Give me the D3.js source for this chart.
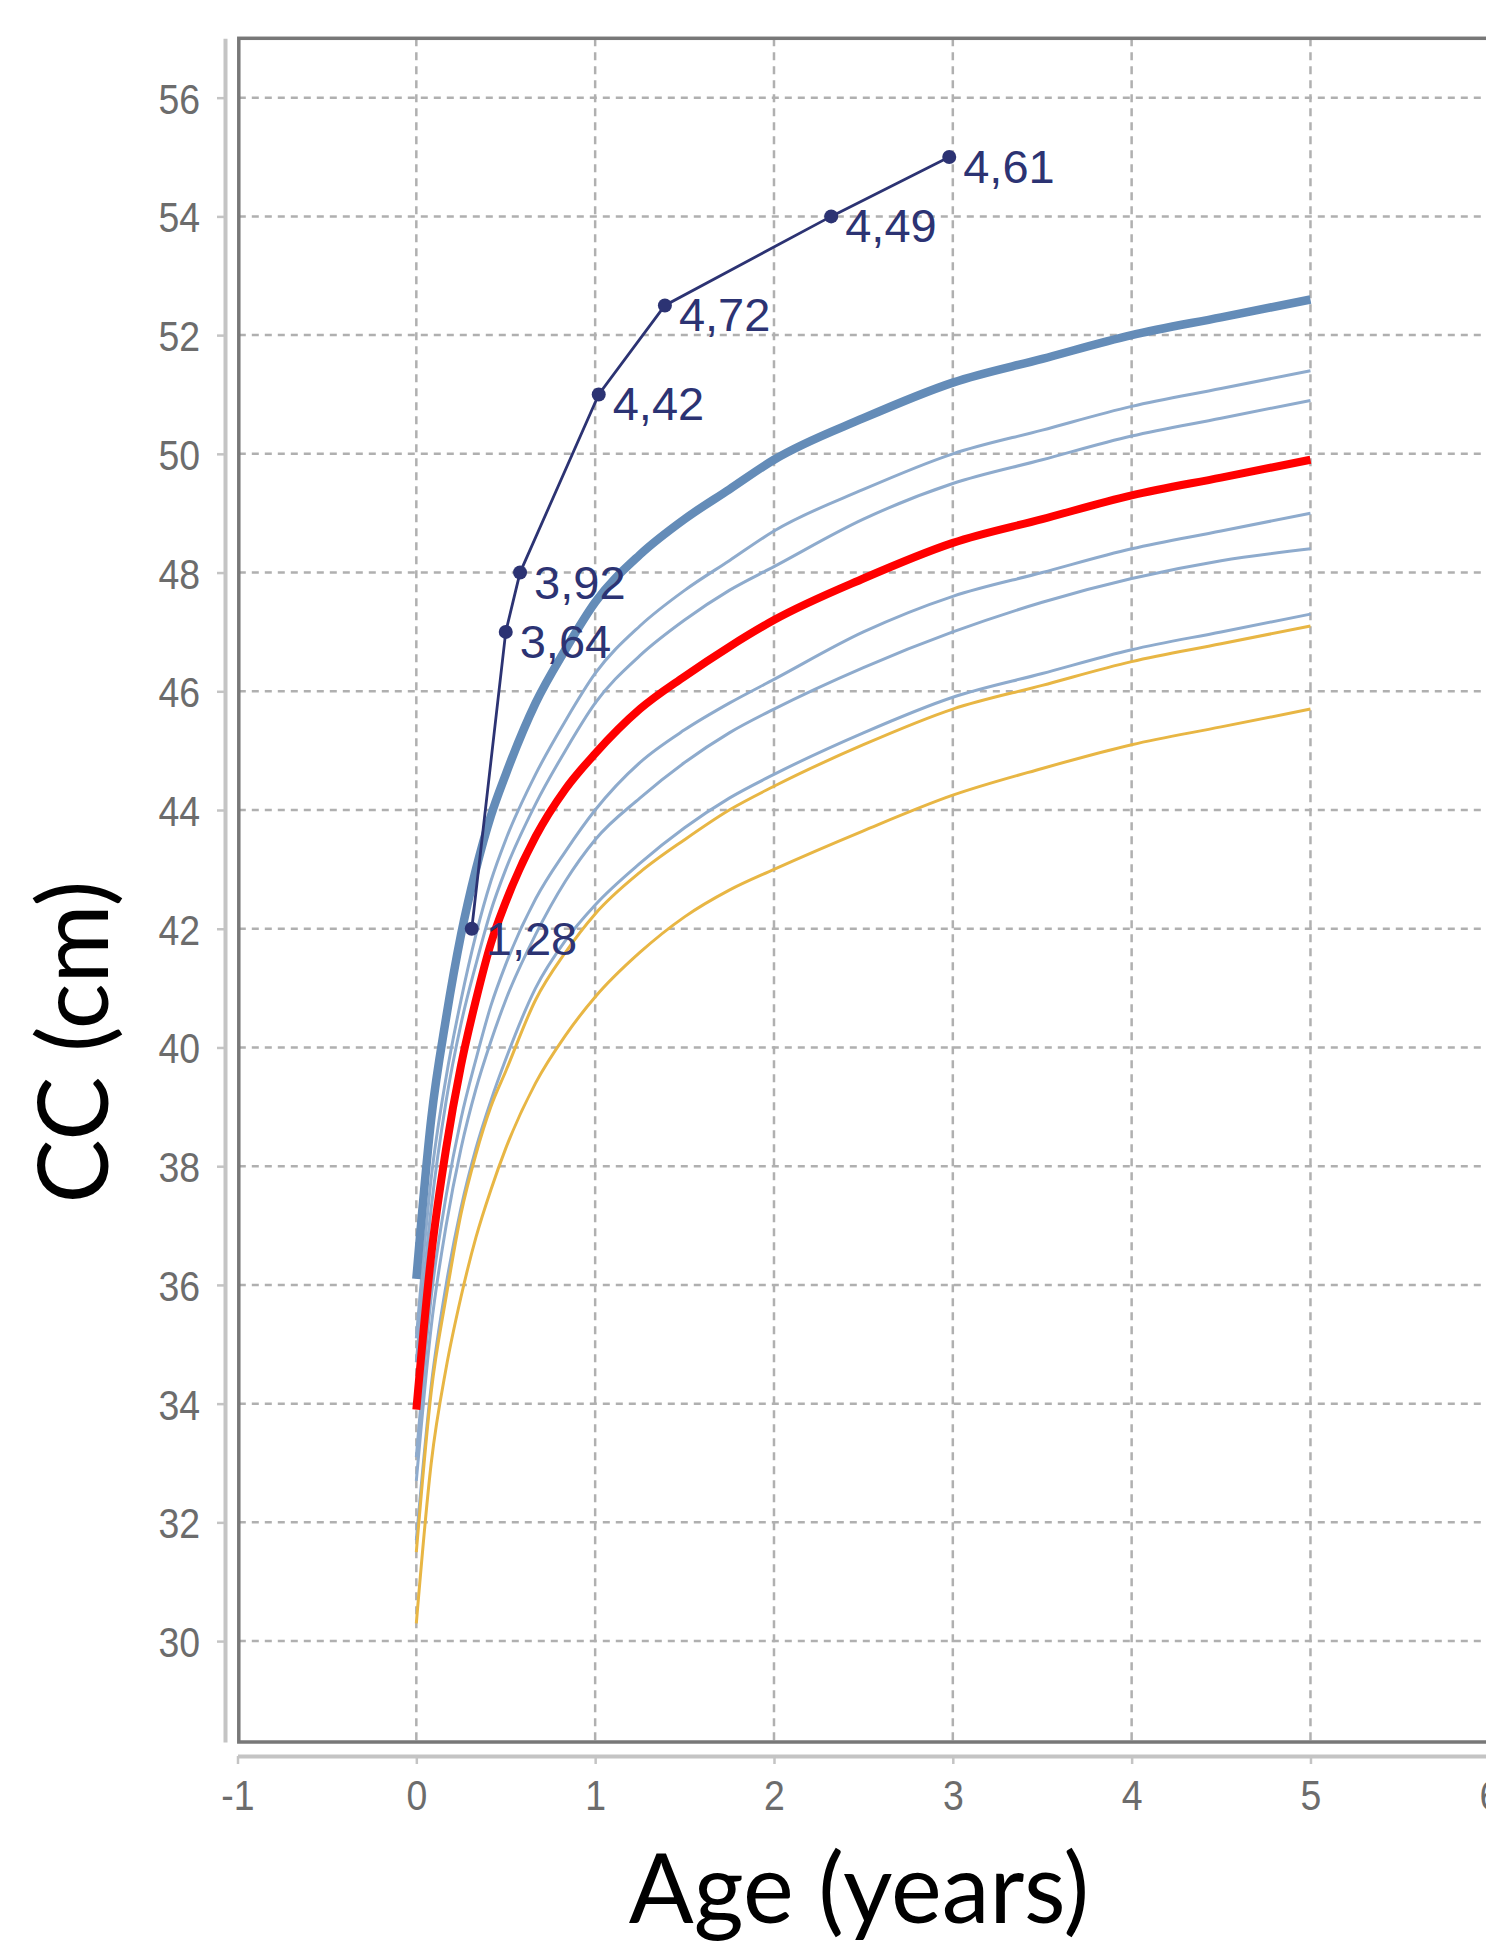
<!DOCTYPE html>
<html>
<head>
<meta charset="utf-8">
<script src="https://cdn.jsdelivr.net/npm/d3@7"></script>
<style>
  html, body { margin: 0; padding: 0; background: #ffffff; }
  svg { display: block; }
</style>
</head>
<body>
<svg id="chart" width="1486" height="1948"></svg>
<script>
// ---------------- DATA ----------------
const xTicks = [-1, 0, 1, 2, 3, 4, 5, 6];
const yTicks = [30, 32, 34, 36, 38, 40, 42, 44, 46, 48, 50, 52, 54, 56];

// reference curve ages (months)
const ageMonths = [0, 1, 2, 3, 4, 5, 6, 8, 10, 12, 15, 18, 21, 24, 30, 36, 42, 48, 54, 60];

const p97  = [36.1, 38.8, 40.5, 41.9, 43.0, 43.9, 44.6, 45.8, 46.7, 47.5, 48.3, 48.9, 49.4, 49.9, 50.6, 51.2, 51.6, 52.0, 52.3, 52.6];
const p85  = [35.1, 37.8, 39.5, 40.8, 41.9, 42.8, 43.5, 44.6, 45.5, 46.3, 47.1, 47.7, 48.2, 48.7, 49.4, 50.0, 50.4, 50.8, 51.1, 51.4];
const p75  = [34.7, 37.3, 39.1, 40.4, 41.4, 42.3, 43.0, 44.1, 45.0, 45.8, 46.6, 47.2, 47.7, 48.1, 48.9, 49.5, 49.9, 50.3, 50.6, 50.9];
const p50  = [33.9, 36.5, 38.3, 39.7, 40.8, 41.75, 42.45, 43.55, 44.35, 44.95, 45.7, 46.25, 46.75, 47.2, 47.9, 48.5, 48.9, 49.3, 49.6, 49.9];
const p25  = [33.1, 35.8, 37.5, 38.8, 39.8, 40.7, 41.4, 42.5, 43.3, 44.0, 44.8, 45.35, 45.8, 46.2, 47.0, 47.6, 48.0, 48.4, 48.7, 49.0];
const p15  = [32.7, 35.3, 37.0, 38.3, 39.3, 40.1, 40.8, 41.9, 42.8, 43.5, 44.2, 44.8, 45.3, 45.7, 46.4, 47.0, 47.5, 47.9, 48.2, 48.4];
const p3   = [31.7, 34.3, 36.0, 37.3, 38.3, 39.1, 39.8, 41.0, 41.8, 42.4, 43.1, 43.7, 44.2, 44.6, 45.3, 45.9, 46.3, 46.7, 47.0, 47.3];
const zm2  = [31.5, 34.2, 35.8, 37.2, 38.2, 39.0, 39.6, 40.8, 41.6, 42.25, 42.95, 43.5, 44.0, 44.4, 45.1, 45.7, 46.1, 46.5, 46.8, 47.1];
const zm3  = [30.3, 33.0, 34.6, 35.8, 36.8, 37.6, 38.3, 39.4, 40.2, 40.85, 41.6, 42.2, 42.65, 43.0, 43.65, 44.25, 44.7, 45.1, 45.4, 45.7];

// patient measurements
const patientAge    = [0.31, 0.50, 0.58, 1.02, 1.39, 2.32, 2.98];
const patientCC     = [42.0, 47.0, 48.0, 51.0, 52.5, 54.0, 55.0];
const patientLabels = ["1,28", "3,64", "3,92", "4,42", "4,72", "4,49", "4,61"];

// ---------------- LAYOUT ----------------
const svg = d3.select("#chart");
const plotLeft = 238.8, plotTop = 38.3, plotBottom = 1742, plotRight = 1492;

const x = d3.scaleLinear().domain([-1, 6]).range([237.5, 1489.3]);
const y = d3.scaleLinear().domain([28.3, 57.0]).range([plotBottom, plotTop]);

const tickFont = "'Liberation Sans', Arial, sans-serif";
const tickColor = "#6c6c6c";
const narrow = 0.87;

// ---------------- GRID ----------------
const grid = svg.append("g");
grid.selectAll("line.h").data(yTicks).enter().append("line")
  .attr("x1", plotLeft).attr("x2", plotRight)
  .attr("y1", d => y(d)).attr("y2", d => y(d))
  .attr("stroke", "#b0b0b0").attr("stroke-width", 2.5)
  .attr("stroke-dasharray", "7,6");
grid.selectAll("line.v").data(xTicks.filter(d => d > -1)).enter().append("line")
  .attr("x1", d => x(d)).attr("x2", d => x(d))
  .attr("y1", plotTop).attr("y2", plotBottom)
  .attr("stroke", "#b0b0b0").attr("stroke-width", 2.5)
  .attr("stroke-dasharray", "8,6");

// ---------------- CURVES ----------------
const line = d3.line()
  .x((d, i) => x(ageMonths[i] / 12))
  .y(d => y(d))
  .curve(d3.curveMonotoneX);

const curves = [
  { data: p15, color: "#8eabcd", width: 3 },
  { data: p25, color: "#8eabcd", width: 3 },
  { data: p3,  color: "#8eabcd", width: 3 },
  { data: p75, color: "#8eabcd", width: 3 },
  { data: p85, color: "#8eabcd", width: 3 },
  { data: zm2, color: "#e8b644", width: 3 },
  { data: zm3, color: "#e8b644", width: 3 },
  { data: p97, color: "#648cb8", width: 8.5 },
  { data: p50, color: "#ff0000", width: 8 }
];
const cg = svg.append("g");
curves.forEach(c => {
  cg.append("path")
    .attr("d", line(c.data))
    .attr("fill", "none")
    .attr("stroke", c.color)
    .attr("stroke-width", c.width)
    .attr("stroke-linejoin", "round");
});

// ---------------- PATIENT ----------------
const navy = "#2c3373";
const pts = patientAge.map((a, i) => [a, patientCC[i], patientLabels[i]]);
svg.append("path")
  .attr("d", d3.line().x(d => x(d[0])).y(d => y(d[1]))(pts))
  .attr("fill", "none").attr("stroke", navy).attr("stroke-width", 2.8);
svg.append("g").selectAll("circle").data(pts).enter().append("circle")
  .attr("cx", d => x(d[0])).attr("cy", d => y(d[1])).attr("r", 7)
  .attr("fill", navy);
svg.append("g").selectAll("text").data(pts).enter().append("text")
  .attr("x", d => x(d[0]) + 14).attr("y", d => y(d[1]) + 26)
  .attr("font-family", tickFont).attr("font-size", 47)
  .attr("fill", navy)
  .text(d => d[2]);

// ---------------- FRAME ----------------
svg.append("rect")
  .attr("x", plotLeft).attr("y", plotTop)
  .attr("width", 1600).attr("height", plotBottom - plotTop)
  .attr("fill", "none").attr("stroke", "#787878").attr("stroke-width", 3.5);

// ---------------- AXES ----------------
const yAxis = svg.append("g").attr("transform", "translate(225,0)")
  .call(d3.axisLeft(y).tickValues(yTicks).tickSize(8).tickSizeOuter(0).tickFormat(d => String(d)));
yAxis.select(".domain").attr("stroke", "#c4c4c4").attr("stroke-width", 4);
yAxis.selectAll(".tick line").attr("stroke", "#c4c4c4").attr("stroke-width", 2.5);
yAxis.selectAll(".tick text")
  .attr("x", -25 / narrow).attr("dy", "0.36em")
  .attr("transform", `scale(${narrow},1)`)
  .attr("font-family", tickFont).attr("font-size", 43).attr("fill", tickColor);

const xAxis = svg.append("g").attr("transform", "translate(0,1756)")
  .call(d3.axisBottom(x).tickValues(xTicks).tickSize(8).tickSizeOuter(0).tickFormat(d => String(d)));
xAxis.select(".domain").attr("stroke", "#c4c4c4").attr("stroke-width", 4);
xAxis.selectAll(".tick line").attr("stroke", "#c4c4c4").attr("stroke-width", 2.5);
xAxis.selectAll(".tick text")
  .attr("y", 54).attr("dy", "0")
  .attr("transform", `scale(${narrow},1)`)
  .attr("font-family", tickFont).attr("font-size", 43).attr("fill", tickColor);

// ---------------- TITLES ----------------
const titleFont = "Lato, 'Open Sans', sans-serif";
svg.append("text")
  .attr("x", 859).attr("y", 1923)
  .attr("text-anchor", "middle")
  .attr("font-family", titleFont).attr("font-size", 96).attr("fill", "#000")
  .text("Age (years)");
svg.append("text")
  .attr("transform", "translate(108,1042) rotate(-90)")
  .attr("text-anchor", "middle")
  .attr("font-family", titleFont).attr("font-size", 96).attr("fill", "#000")
  .text("CC (cm)");
</script>
</body>
</html>
